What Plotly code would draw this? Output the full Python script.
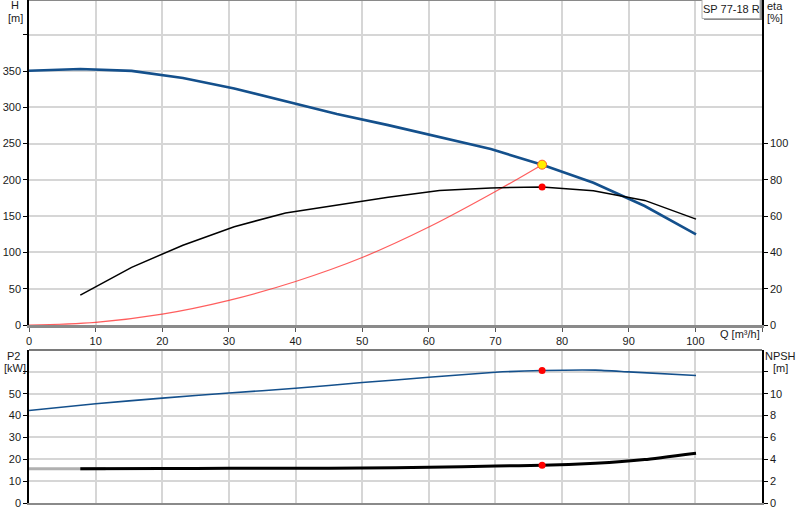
import plotly.graph_objects as go

# pump curve data
q_pump = [0, 7.7, 15.4, 23.1, 30.8, 38.5, 46.2, 53.9, 61.6, 69.3, 77, 84.7, 92.4, 100.1]
head = [350.4, 352.8, 350.3, 340.5, 326, 309, 291, 275.5, 259.5, 242.5, 221, 196, 164, 125]

q_eta = [7.7, 15.4, 23.1, 30.8, 38.5, 46.2, 53.9, 61.6, 69.3, 77, 84.7, 92.4, 100.1]
eta = [16.5, 31.8, 44, 54.2, 61.8, 66.3, 70.5, 74.1, 75.6, 76.1, 74, 68.7, 58.4]

q_sys = [0, 10, 20, 30, 40, 50, 60, 70, 77]
h_sys = [0, 3.7, 15, 34, 60, 93, 135, 184, 221]

q_p2 = [0, 10, 20, 30, 40, 50, 60, 70, 77, 85, 90, 100.1]
p2 = [42.3, 45.4, 48, 50.3, 52.5, 55.1, 57.5, 59.8, 60.6, 60.8, 60, 58.3]

q_npsh = [7.7, 20, 30, 40, 50, 60, 70, 77, 85, 92.4, 100.1]
npsh = [3.14, 3.16, 3.17, 3.17, 3.2, 3.26, 3.38, 3.45, 3.63, 3.97, 4.56]
q_npsh_ext = [0, 11.5]
npsh_ext = [3.14, 3.14]

q_duty = 77
h_duty = 221
eta_duty = 76.1
p2_duty = 60.6
npsh_duty = 3.45

x_ticks = list(range(0, 120, 10))
x_labels = [str(v) for v in x_ticks[:-1]] + ['']
h_ticks = list(range(0, 450, 50))
h_labels = [str(v) for v in h_ticks[:-1]] + ['']
eta_ticks = list(range(0, 120, 20))
p2_ticks = list(range(0, 70, 10))
p2_labels = [str(v) for v in p2_ticks[:-1]] + ['']
npsh_ticks = list(range(0, 14, 2))
npsh_labels = [str(v) for v in npsh_ticks[:-1]] + ['']

BLUE = '#14508c'
FONT = 'Liberation Sans, Arial, sans-serif'
GRID = '#d6d6d6'

# pixel helpers for the plot area (29..762 x 0..503)
def px(x):
    return (x - 29) / 733.0

def py(y):
    return (503 - y) / 503.0

fig = go.Figure()

# top panel: H and eta
fig.add_trace(go.Scatter(x=q_sys, y=h_sys, mode='lines', line=dict(color='rgba(255,40,40,0.75)', width=1.2, shape='spline'),
                         xaxis='x', yaxis='y', hoverinfo='skip'))
fig.add_trace(go.Scatter(x=q_eta, y=eta, mode='lines', line=dict(color='black', width=1.5),
                         xaxis='x', yaxis='y2'))
fig.add_trace(go.Scatter(x=q_pump, y=head, mode='lines', line=dict(color=BLUE, width=2.6),
                         xaxis='x', yaxis='y'))
fig.add_trace(go.Scatter(x=[q_duty], y=[eta_duty], mode='markers', marker=dict(color='red', size=7),
                         xaxis='x', yaxis='y2'))
fig.add_trace(go.Scatter(x=[q_duty], y=[h_duty], mode='markers',
                         marker=dict(color='#ffee00', size=9, line=dict(color='#ff5a2a', width=1)),
                         xaxis='x', yaxis='y'))

# bottom panel: P2 and NPSH
fig.add_trace(go.Scatter(x=q_p2, y=p2, mode='lines', line=dict(color=BLUE, width=1.6, shape='spline', smoothing=0.5),
                         xaxis='x2', yaxis='y3'))
fig.add_trace(go.Scatter(x=q_npsh_ext, y=npsh_ext, mode='lines', line=dict(color='#b0b0b0', width=3),
                         xaxis='x2', yaxis='y4'))
fig.add_trace(go.Scatter(x=q_npsh, y=npsh, mode='lines', line=dict(color='black', width=3, shape='spline', smoothing=0.4),
                         xaxis='x2', yaxis='y4'))
fig.add_trace(go.Scatter(x=[q_duty], y=[p2_duty], mode='markers', marker=dict(color='red', size=7),
                         xaxis='x2', yaxis='y3'))
fig.add_trace(go.Scatter(x=[q_duty], y=[npsh_duty], mode='markers', marker=dict(color='red', size=7),
                         xaxis='x2', yaxis='y4'))

tick_font = dict(family=FONT, size=11, color='#1a1a1a')

fig.update_layout(
    width=800, height=520,
    margin=dict(l=29, r=38, t=0, b=17, autoexpand=False),
    paper_bgcolor='white', plot_bgcolor='white',
    showlegend=False,
    font=dict(family=FONT, size=11, color='#1a1a1a'),
    xaxis=dict(domain=[0, 1], range=[0, 110], anchor='y', tickvals=x_ticks, ticktext=x_labels,
               showgrid=True, gridcolor=GRID, gridwidth=1.5, zeroline=False, automargin=False,
               showline=True, linecolor='#8a8a8a', linewidth=3,
               ticks='outside', ticklen=4, tickcolor='#555', tickfont=tick_font),
    yaxis=dict(domain=[py(325), 1], range=[0, 448], anchor='x', tickvals=h_ticks, ticktext=h_labels,
               showgrid=True, gridcolor=GRID, gridwidth=1.5, zeroline=False, automargin=False,
               showline=True, linecolor='black', linewidth=1.5,
               ticks='outside', ticklen=4, tickcolor='black', tickfont=tick_font),
    yaxis2=dict(overlaying='y', side='right', anchor='x', range=[0, 448 * 0.4], tickvals=eta_ticks,
                showgrid=False, zeroline=False, showline=True, linecolor='black', linewidth=1.5, automargin=False,
                ticks='outside', ticklen=4, tickcolor='black', tickfont=tick_font),
    xaxis2=dict(domain=[0, 1], range=[0, 110], anchor='y3', tickvals=x_ticks, showticklabels=False,
                showgrid=True, gridcolor=GRID, gridwidth=1.5, zeroline=False, automargin=False,
                showline=True, linecolor='#8a8a8a', linewidth=2, ticks=''),
    yaxis3=dict(domain=[0, py(350)], range=[0, 70], anchor='x2', tickvals=p2_ticks, ticktext=p2_labels,
                showgrid=True, gridcolor=GRID, gridwidth=1.5, zeroline=False, automargin=False,
                showline=True, linecolor='black', linewidth=1.5,
                ticks='outside', ticklen=4, tickcolor='black', tickfont=tick_font),
    yaxis4=dict(overlaying='y3', side='right', anchor='x2', range=[0, 14], tickvals=npsh_ticks, ticktext=npsh_labels,
                showgrid=False, zeroline=False, showline=True, linecolor='black', linewidth=1.5, automargin=False,
                ticks='outside', ticklen=4, tickcolor='black', tickfont=tick_font),
)

# frame tops
fig.add_shape(type='line', xref='paper', yref='paper', x0=0, x1=1, y0=1, y1=1,
              line=dict(color='#8a8a8a', width=2))
fig.add_shape(type='line', xref='paper', yref='paper', x0=0, x1=1, y0=py(350), y1=py(350),
              line=dict(color='#7a7a7a', width=2))

# product label box with a little shadow
fig.add_shape(type='rect', xref='paper', yref='paper', x0=px(704), x1=px(762), y0=py(20), y1=py(1),
              fillcolor='#8c8c8c', line=dict(width=0), layer='above')
fig.add_shape(type='rect', xref='paper', yref='paper', x0=px(702), x1=px(760), y0=py(18.5), y1=py(-1),
              fillcolor='white', line=dict(color='#b0b0b0', width=1), layer='above')

notes = [
    ('SP 77-18 R', 731, 9, 'center'),
    ('H', 15, 5, 'center'),
    ('[m]', 15, 18, 'center'),
    ('eta', 775, 6, 'center'),
    ('[%]', 775, 18, 'center'),
    ('Q [m\u00b3/h]', 740, 334, 'center'),
    ('P2', 14, 356, 'center'),
    ('[kW]', 15, 368, 'center'),
    ('NPSH', 780, 356, 'center'),
    ('[m]', 780, 368, 'center'),
]
for text, x, y, anchor in notes:
    fig.add_annotation(text=text, xref='paper', yref='paper', x=px(x), y=py(y),
                       xanchor=anchor, yanchor='middle', showarrow=False,
                       font=dict(family=FONT, size=11, color='#1a1a1a'))

# page body margin would shift the chart by 8px
fig.write_html("out.html", config={'displayModeBar': False},
               post_script="document.body.style.margin='0';")
